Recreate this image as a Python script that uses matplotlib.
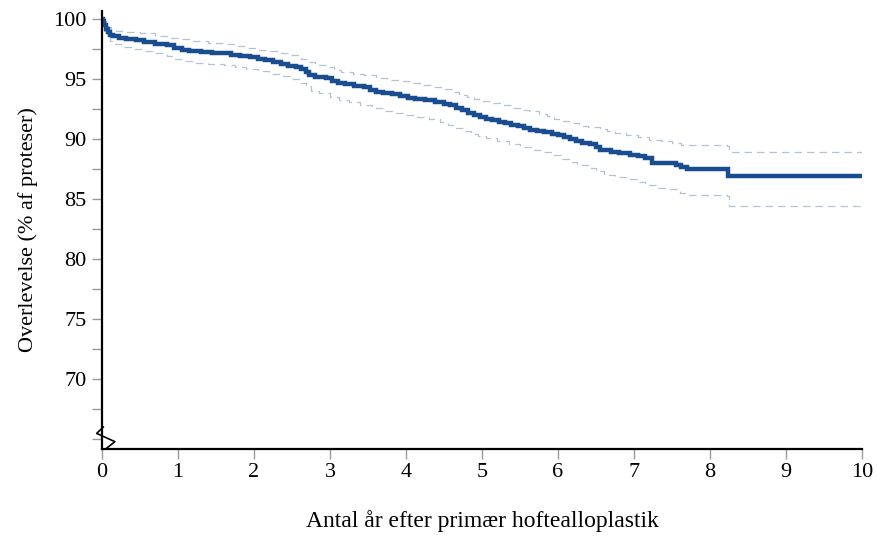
import matplotlib
matplotlib.use("Agg")
import matplotlib.pyplot as plt
from matplotlib.lines import Line2D

plt.rcParams["font.family"] = ["Liberation Serif", "DejaVu Serif"]

# Kaplan-Meier estimate (step function) with 95% confidence limits
t_main = [0.00, 0.01, 0.03, 0.05, 0.08, 0.11, 0.15, 0.22, 0.32, 0.45, 0.55, 0.70,
          0.85, 0.95, 1.05, 1.15, 1.30, 1.45, 1.62, 1.70, 1.82, 1.95, 2.05, 2.15,
          2.25, 2.35, 2.45, 2.55, 2.62, 2.68, 2.73, 2.80, 2.95, 3.02, 3.10, 3.20,
          3.32, 3.45, 3.52, 3.60, 3.70, 3.82, 3.92, 4.02, 4.12, 4.25, 4.38, 4.50,
          4.58, 4.66, 4.74, 4.82, 4.90, 4.97, 5.05, 5.13, 5.22, 5.30, 5.38, 5.47,
          5.55, 5.63, 5.72, 5.82, 5.92, 6.00, 6.08, 6.16, 6.24, 6.32, 6.42, 6.50,
          6.55, 6.70, 6.80, 6.95, 7.05, 7.15, 7.24, 7.55, 7.62, 7.70, 8.24, 10.00]
s_main = [100.0, 99.8, 99.5, 99.2, 98.9, 98.7, 98.55, 98.45, 98.35, 98.25, 98.1, 97.95,
          97.8, 97.6, 97.45, 97.35, 97.25, 97.2, 97.15, 97.0, 96.9, 96.8, 96.65, 96.55,
          96.4, 96.25, 96.1, 96.0, 95.85, 95.6, 95.3, 95.2, 95.05, 94.8, 94.65, 94.55,
          94.45, 94.3, 94.1, 93.95, 93.85, 93.75, 93.6, 93.45, 93.35, 93.25, 93.1, 92.95,
          92.8, 92.6, 92.4, 92.2, 92.0, 91.85, 91.7, 91.55, 91.45, 91.3, 91.15, 91.05,
          90.9, 90.75, 90.65, 90.55, 90.45, 90.3, 90.15, 90.0, 89.85, 89.7, 89.55, 89.35,
          89.05, 88.95, 88.8, 88.7, 88.6, 88.4, 88.0, 87.85, 87.7, 87.5, 86.9, 86.9]

t_upper = [0.00, 0.02, 0.05, 0.08, 0.12, 0.18, 0.30, 0.50, 0.70, 0.90, 1.05, 1.20,
           1.40, 1.60, 1.75, 1.90, 2.05, 2.20, 2.35, 2.50, 2.62, 2.70, 2.80, 2.95,
           3.05, 3.15, 3.30, 3.45, 3.60, 3.75, 3.90, 4.05, 4.20, 4.35, 4.50, 4.60,
           4.70, 4.80, 4.90, 5.00, 5.12, 5.25, 5.38, 5.50, 5.62, 5.75, 5.85, 5.95,
           6.05, 6.15, 6.28, 6.40, 6.55, 6.65, 6.75, 6.90, 7.05, 7.20, 7.35, 7.50,
           7.62, 8.22, 8.25, 10.00]
s_upper = [100.0, 99.85, 99.6, 99.35, 99.1, 99.0, 98.9, 98.8, 98.6, 98.45, 98.3, 98.15,
           98.0, 97.9, 97.75, 97.6, 97.45, 97.3, 97.15, 97.0, 96.7, 96.4, 96.2, 96.0,
           95.75, 95.55, 95.45, 95.3, 95.1, 94.95, 94.8, 94.65, 94.5, 94.35, 94.15, 93.95,
           93.7, 93.5, 93.3, 93.15, 93.0, 92.8, 92.6, 92.45, 92.3, 92.1, 91.9, 91.7,
           91.5, 91.3, 91.1, 91.0, 90.85, 90.65, 90.5, 90.35, 90.15, 89.95, 89.8, 89.65,
           89.5, 89.4, 88.9, 88.9]

t_lower = [0.00, 0.01, 0.03, 0.06, 0.10, 0.15, 0.25, 0.40, 0.55, 0.70, 0.85, 0.95,
           1.05, 1.20, 1.40, 1.60, 1.75, 1.90, 2.05, 2.20, 2.35, 2.50, 2.60, 2.68,
           2.75, 2.85, 3.00, 3.12, 3.25, 3.40, 3.55, 3.70, 3.85, 4.00, 4.15, 4.30,
           4.45, 4.55, 4.65, 4.75, 4.85, 4.95, 5.05, 5.20, 5.35, 5.50, 5.65, 5.80,
           5.92, 6.05, 6.15, 6.25, 6.40, 6.50, 6.60, 6.75, 6.90, 7.05, 7.15, 7.30,
           7.45, 7.60, 7.70, 8.22, 8.25, 10.00]
s_lower = [100.0, 99.5, 99.0, 98.6, 98.2, 97.9, 97.7, 97.5, 97.35, 97.15, 96.95, 96.7,
           96.5, 96.35, 96.25, 96.15, 96.0, 95.85, 95.65, 95.45, 95.25, 95.0, 94.7, 94.4,
           94.0, 93.8, 93.5, 93.25, 93.05, 92.85, 92.6, 92.35, 92.15, 92.0, 91.85, 91.65,
           91.4, 91.15, 90.9, 90.7, 90.45, 90.25, 90.05, 89.85, 89.6, 89.35, 89.1, 88.9,
           88.65, 88.35, 88.1, 87.85, 87.6, 87.3, 87.0, 86.85, 86.65, 86.45, 86.2, 85.95,
           85.8, 85.5, 85.3, 85.25, 84.4, 84.4]

x_ticks = list(range(0, 11))
y_major = [65, 70, 75, 80, 85, 90, 95, 100]
y_labels = ["", "70", "75", "80", "85", "90", "95", "100"]
y_minor = [67.5, 72.5, 77.5, 82.5, 87.5, 92.5, 97.5]

fig = plt.figure(figsize=(8.77, 5.42), dpi=100)
ax = fig.add_axes([0.1163, 0.1716, 0.8666, 0.8088])

ci_color = "#b3c3d3"
main_color = "#1a4d8f"
ax.plot(t_upper, s_upper, drawstyle="steps-post", color=ci_color, lw=0.9,
        dashes=(6, 4))
ax.plot(t_lower, s_lower, drawstyle="steps-post", color=ci_color, lw=0.9,
        dashes=(6, 4))
ax.plot(t_main, s_main, drawstyle="steps-post", color=main_color, lw=3.2,
        solid_joinstyle="miter")

ax.set_xlim(0, 10)
ax.set_ylim(64.17, 100.7)
ax.set_xticks(x_ticks)
ax.set_yticks(y_major)
ax.set_yticklabels(y_labels)
ax.set_yticks(y_minor, minor=True)

for s in ("top", "right"):
    ax.spines[s].set_visible(False)
for s in ("left", "bottom"):
    ax.spines[s].set_color("black")
    ax.spines[s].set_linewidth(1.6)

ax.tick_params(axis="both", which="both", direction="out", color="#999999",
               width=1.0, labelsize=16, length=7)
ax.tick_params(axis="y", pad=4)
ax.tick_params(axis="x", pad=3)

# axis-break marker on the y axis
brk = Line2D([0.017, -0.07, 0.17, 0.06], [66.0, 65.47, 64.78, 64.23],
             color="black", lw=1.2, transform=ax.transData, clip_on=False)
ax.add_line(brk)

ax.set_xlabel("Antal år efter primær hoftealloplastik", fontsize=17, labelpad=20)
ax.set_ylabel("Overlevelse (% af proteser)", fontsize=16, labelpad=11)

fig.savefig("out.png", dpi=100, facecolor="white")
